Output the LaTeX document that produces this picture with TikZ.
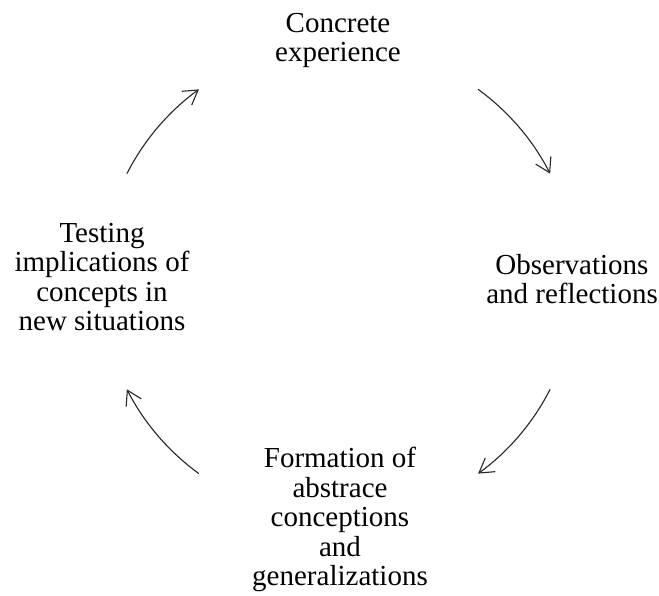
\documentclass[tikz,border=0pt]{standalone}
\usepackage{fontspec}
\setmainfont{Liberation Serif}
\usetikzlibrary{arrows.meta}
\begin{document}
\begin{tikzpicture}[x=1pt,y=1pt,
  label/.style={font=\fontsize{29}{29.5}\selectfont, align=center, inner sep=0pt, anchor=north, text=black},
  cyc/.style={draw=black!85, line width=1.1pt, -{Straight Barb[length=14pt,width=17pt,line width=1.1pt]}}]
\useasboundingbox (0,0) rectangle (659,596);
\node[label] (ce) at (338,583) {Concrete\\experience};
\node[label] (or) at (572,342) {Observations\\and reflections};
\node[label] (fa) at (340,149) {Formation of\\abstrace\\conceptions\\and\\generalizations};
\node[label] (ti) at (102,373) {Testing\\implications of\\concepts in\\new situations};
\coordinate (ctr) at (338.5,314.5);
\path (ctr) ++(54:237.5pt) coordinate (a1s);
\path (ctr) ++(-27:237.5pt) coordinate (a2s);
\path (ctr) ++(-126:237.5pt) coordinate (a3s);
\path (ctr) ++(153:237.5pt) coordinate (a4s);
\draw[cyc] (a1s) arc[start angle=54,end angle=27,radius=237.5pt];
\draw[cyc] (a2s) arc[start angle=-27,end angle=-54,radius=237.5pt];
\draw[cyc] (a3s) arc[start angle=234,end angle=207,radius=237.5pt];
\draw[cyc] (a4s) arc[start angle=153,end angle=126,radius=237.5pt];
\end{tikzpicture}
\end{document}
